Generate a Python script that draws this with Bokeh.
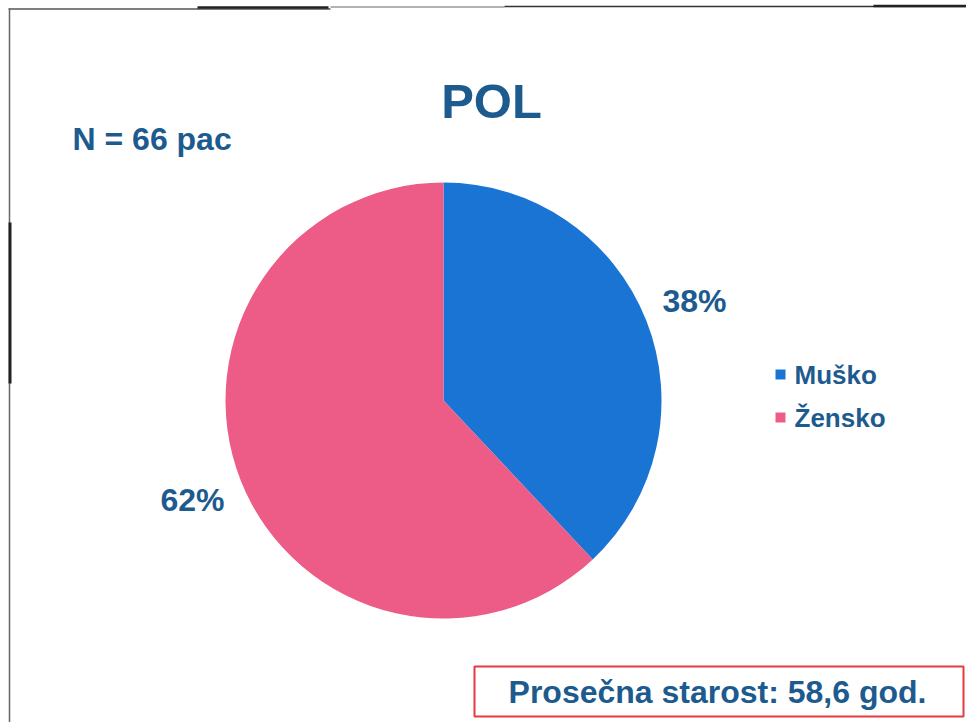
import numpy as np
from bokeh.plotting import figure
from bokeh.models import Range1d, ColumnDataSource
from bokeh.embed import file_html
from bokeh.resources import INLINE
from bokeh.core.properties import value

# ---- data ----
title_text = "POL"
n_text = "N = 66 pac"
categories = ["Muško", "Žensko"]
shares = [38, 62]
pct_labels = ["38%", "62%"]
colors = ["#1a74d3", "#ec5c87"]
note_text = "Prosečna starost: 58,6 god."

# ---- layout ----
W, H = 966, 722
TXT = "#1d5b8f"
FONT = value("Liberation Sans")

def Y(py):  # screen pixel row -> data y
    return 725 - py

p = figure(width=W, height=H, x_range=Range1d(0, W), y_range=Range1d(725 - H, 725),
           output_backend="svg", toolbar_location=None, min_border=0,
           x_axis_location=None, y_axis_location=None)
p.grid.visible = False
p.outline_line_color = None
p.background_fill_color = "white"

# scan border lines
p.segment(x0=[8, 197, 330, 504, 873], y0=[Y(8.5), Y(7), Y(6.5), Y(6), Y(5.5)],
          x1=[330, 328, 504, 966, 966], y1=[Y(8.5), Y(7), Y(6.5), Y(6), Y(5.5)],
          line_color=["#555555", "#222222", "#999999", "#333333", "#222222"],
          line_width=[1.5, 2.5, 1.5, 1.5, 2.5])
p.segment(x0=[9, 9.5], y0=[Y(8), Y(222)], x1=[9, 9.5], y1=[Y(725), Y(383)],
          line_color=["#666666", "#222222"], line_width=[1.5, 3])

# pie
cx, cy, r = 443, Y(400), 218
frac = np.array(shares, dtype=float) / sum(shares)
cum = np.cumsum(frac)
start = np.pi / 2 - cum * 2 * np.pi
end = np.pi / 2 - (cum - frac) * 2 * np.pi
mid = (start + end) / 2
src = ColumnDataSource(dict(cat=categories, start=start, end=end, color=colors,
                            lx=cx + 270 * np.cos(mid), ly=cy + 270 * np.sin(mid),
                            lab=pct_labels))
p.wedge(x=cx, y=cy, radius=r, start_angle="start", end_angle="end",
        fill_color="color", line_color=None, source=src)
p.text(x="lx", y="ly", text="lab", source=src, text_font=FONT, text_font_style="bold",
       text_font_size="32px", text_color=TXT, text_align="center", text_baseline="middle")

# title and N
p.text(x=[491], y=[Y(100)], text=[title_text], text_font=FONT, text_font_style="bold",
       text_font_size="49px", text_color=TXT, text_align="center", text_baseline="middle")
p.text(x=[72], y=[Y(138)], text=[n_text], text_font=FONT, text_font_style="bold",
       text_font_size="32px", text_color=TXT, text_align="left", text_baseline="middle")

# legend
leg_y = [Y(374) - i * 43 for i in range(len(categories))]
p.rect(x=[780] * len(categories), y=leg_y, width=10, height=10,
       fill_color=colors, line_color=None)
p.text(x=[794] * len(categories), y=leg_y, text=categories, text_font=FONT,
       text_font_style="bold", text_font_size="26px", text_color=TXT,
       text_align="left", text_baseline="middle")

# note box
p.quad(left=[474], right=[963], bottom=[Y(716)], top=[Y(666)], fill_color="white",
       line_color="#e53a42", line_width=2)
p.text(x=[717], y=[Y(691)], text=[note_text], text_font=FONT, text_font_style="bold",
       text_font_size="32px", text_color=TXT, text_align="center", text_baseline="middle")

open("out.html", "w").write(file_html(p, INLINE))
